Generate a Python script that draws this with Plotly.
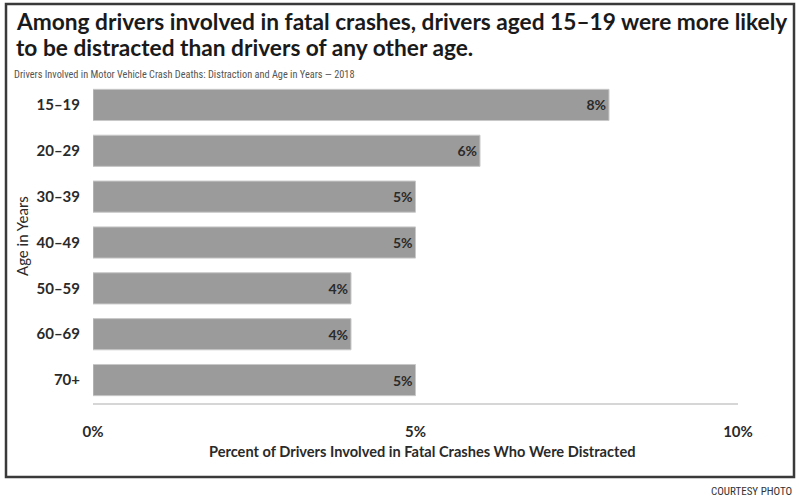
import plotly.graph_objects as go

ages = ["15–19", "20–29", "30–39", "40–49", "50–59", "60–69", "70+"]
pct_distracted = [8, 6, 5, 5, 4, 4, 5]
x_ticks = [0, 5, 10]
x_tick_labels = ["0%", "5%", "10%"]

title_1 = "Among drivers involved in fatal crashes, drivers aged 15–19 were more likely"
title_2 = "to be distracted than drivers of any other age."
subtitle = "Drivers Involved in Motor Vehicle Crash Deaths: Distraction and Age in Years — 2018"
x_title = "Percent of Drivers Involved in Fatal Crashes Who Were Distracted"
y_title = "Age in Years"
credit = "COURTESY PHOTO"

FONT = "Lato, 'Open Sans', sans-serif"
NARROW = "'Liberation Sans Narrow', 'Roboto Condensed', sans-serif"

fig = go.Figure()
fig.add_trace(go.Bar(
    x=pct_distracted,
    y=ages,
    orientation="h",
    width=0.68,
    marker=dict(color="#9b9b9b", line=dict(color="#c8c8c8", width=1)),
    text=[f"{v}%" for v in pct_distracted],
    textposition="inside",
    insidetextanchor="end",
    textfont=dict(family=FONT, size=14, color="#2a2a2a", weight="bold"),
    hoverinfo="skip",
))

fig.update_layout(
    width=800, height=500,
    margin=dict(l=93, r=62, t=82, b=97),
    paper_bgcolor="white", plot_bgcolor="white",
    showlegend=False,
    font=dict(family=FONT, color="#2a2a2a"),
    xaxis=dict(
        range=[0, 10], tickvals=x_ticks, ticktext=x_tick_labels,
        showgrid=False, zeroline=False, showline=True,
        linecolor="#d6d6d6", linewidth=2,
        ticks="", ticklabelstandoff=14,
        tickfont=dict(family=FONT, size=15, color="#2a2a2a", weight="bold"),
        fixedrange=True,
    ),
    yaxis=dict(
        categoryorder="array", categoryarray=ages, autorange="reversed",
        showgrid=False, zeroline=False, showline=False, ticks="",
        ticklabelstandoff=12,
        tickfont=dict(family=FONT, size=15, color="#2a2a2a", weight="bold"),
        fixedrange=True,
    ),
    shapes=[dict(
        type="rect", xref="paper", yref="paper",
        x0=(6 - 93) / 645, x1=(794 - 93) / 645,
        y0=(403 - 477) / 321, y1=(403 - 4) / 321,
        line=dict(color="#3a3a3a", width=2.5), fillcolor="rgba(0,0,0,0)",
        layer="below",
    )],
    annotations=[
        dict(text=title_1, xref="paper", yref="paper", x=(14 - 93) / 645, y=(403 - 21) / 321,
             xanchor="left", yanchor="middle", showarrow=False,
             font=dict(family=FONT, size=22.7, color="#1a1a1a", weight="bold")),
        dict(text=title_2, xref="paper", yref="paper", x=(14 - 93) / 645, y=(403 - 48) / 321,
             xanchor="left", yanchor="middle", showarrow=False,
             font=dict(family=FONT, size=22.7, color="#1a1a1a", weight="bold")),
        dict(text=subtitle, xref="paper", yref="paper", x=(12 - 93) / 645, y=(403 - 74) / 321,
             xanchor="left", yanchor="middle", showarrow=False,
             font=dict(family=NARROW, size=10.3, color="#555555")),
        dict(text=y_title, xref="paper", yref="paper", x=(22 - 93) / 645, y=(403 - 236) / 321,
             xanchor="center", yanchor="middle", showarrow=False, textangle=-90,
             font=dict(family=FONT, size=15, color="#2a2a2a")),
        dict(text=x_title, xref="paper", yref="paper", x=(422 - 93) / 645, y=(403 - 452) / 321,
             xanchor="center", yanchor="middle", showarrow=False,
             font=dict(family=FONT, size=14.6, color="#2a2a2a", weight="bold")),
        dict(text=credit, xref="paper", yref="paper", x=(794 - 93) / 645, y=(403 - 491) / 321,
             xanchor="right", yanchor="middle", showarrow=False,
             font=dict(family=NARROW, size=11, color="#333333")),
    ],
)

fig.write_html("out.html")
